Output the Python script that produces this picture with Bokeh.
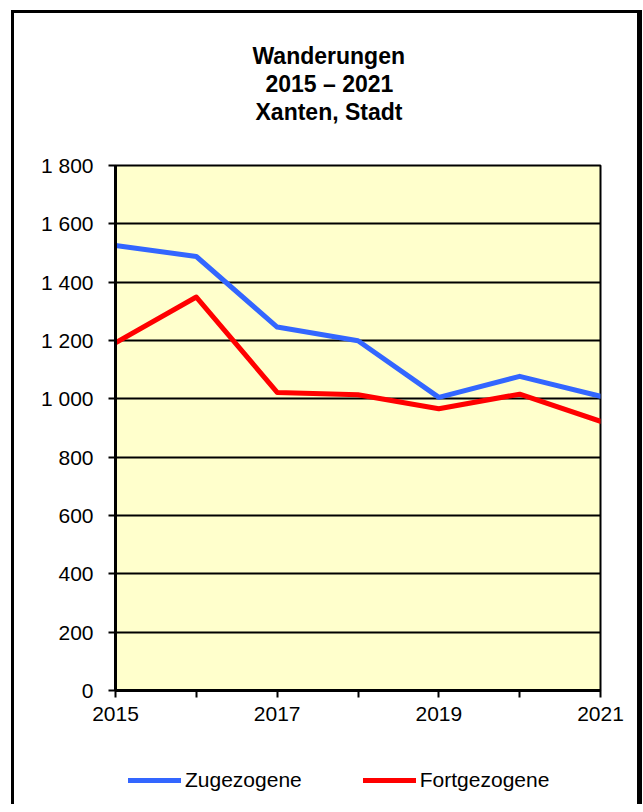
from bokeh.plotting import figure
from bokeh.layouts import column
from bokeh.models import Range1d, FixedTicker, Legend, LegendItem, Title
from bokeh.embed import file_html
from bokeh.resources import INLINE

# ---- data ----
years = [2015, 2016, 2017, 2018, 2019, 2020, 2021]
zugezogene = [1526, 1488, 1246, 1199, 1005, 1077, 1009]
fortgezogene = [1192, 1349, 1022, 1014, 966, 1016, 923]
y_ticks = [0, 200, 400, 600, 800, 1000, 1200, 1400, 1600, 1800]
y_tick_labels = ["0", "200", "400", "600", "800", "1 000", "1 200", "1 400", "1 600", "1 800"]
x_ticks = [2015, 2016, 2017, 2018, 2019, 2020, 2021]
x_tick_labels = ["2015", "", "2017", "", "2019", "", "2021"]
title_lines = ["Wanderungen", "2015 – 2021", "Xanten, Stadt"]
series_names = ["Zugezogene", "Fortgezogene"]
series_colors = ["#3366FF", "#FF0000"]
series_values = [zugezogene, fortgezogene]

FONT = "Liberation Sans"

# ---------------- main chart ----------------
p = figure(
    frame_width=485, frame_height=525,
    min_border_left=101, min_border_right=37,
    min_border_top=152, min_border_bottom=50,
    x_range=Range1d(2015, 2021), y_range=Range1d(0, 1800),
    output_backend="svg", toolbar_location=None,
    background_fill_color="#FFFFCC", border_fill_color="white",
)
p.outline_line_color = "black"
p.outline_line_width = 2

p.xgrid.visible = False
p.ygrid.ticker = FixedTicker(ticks=y_ticks)
p.ygrid.grid_line_color = "black"
p.ygrid.grid_line_width = 2

p.yaxis.ticker = FixedTicker(ticks=y_ticks)
p.yaxis.major_label_overrides = {t: l for t, l in zip(y_ticks, y_tick_labels)}
p.xaxis.ticker = FixedTicker(ticks=x_ticks)
p.xaxis.major_label_overrides = {t: l for t, l in zip(x_ticks, x_tick_labels)}
for ax in (p.xaxis, p.yaxis):
    ax.axis_line_color = "black"
    ax.axis_line_width = 3
    ax.major_tick_line_color = "black"
    ax.major_tick_line_width = 2
    ax.major_tick_out = 7
    ax.major_tick_in = 0
    ax.minor_tick_line_color = None
    ax.major_label_text_font = FONT
    ax.major_label_text_font_size = "21px"
    ax.major_label_text_color = "black"
p.yaxis.major_label_standoff = 15
p.xaxis.major_label_standoff = 9

for vals, col in zip(series_values, series_colors):
    p.line(years, vals, line_color=col, line_width=5, line_join="round", line_cap="round")

# titles: added from the frame outward (first a blank spacer next to the frame)
p.add_layout(Title(text=" ", text_font=FONT, text_font_size="23px", standoff=13), "above")
title_offsets = [137, 150, 140]
for txt, off in zip(reversed(title_lines), reversed(title_offsets)):
    p.add_layout(Title(
        text=txt, align="left", offset=off, standoff=0,
        text_font=FONT, text_font_size="23px", text_font_style="bold",
        text_color="black",
    ), "above")

# ---------------- legend strip below the chart (same horizontal structure) ----------------
lg = figure(
    frame_width=485, frame_height=64,
    min_border_left=101, min_border_right=37, min_border_top=0, min_border_bottom=0,
    x_range=Range1d(0, 1), y_range=Range1d(0, 1),
    x_axis_location=None, y_axis_location=None,
    output_backend="svg", toolbar_location=None,
    background_fill_color="white", border_fill_color="white",
)
lg.outline_line_color = None
lg.grid.visible = False
legend_renderers = []
for vals, col in zip(series_values, series_colors):
    # same series, outside this strip's visible range: only their legend glyphs show
    legend_renderers.append(
        lg.line(years, vals, line_color=col, line_width=5, line_cap="round")
    )
legend = Legend(
    items=[LegendItem(label=n, renderers=[r]) for n, r in zip(series_names, legend_renderers)],
    orientation="horizontal",
    location=(13, 12),
    padding=0, margin=0, spacing=61,
    glyph_width=53, glyph_height=20, label_height=20, label_standoff=4,
    label_text_font=FONT, label_text_font_size="21px", label_text_color="black",
    border_line_alpha=0, background_fill_alpha=0,
)
lg.add_layout(legend, "center")

layout = column(p, lg, spacing=0)
layout.styles = {
    "border-top": "3px solid black",
    "border-left": "3px solid black",
    "border-right": "5px solid black",
    "margin-left": "11px",
    "margin-top": "10px",
}
open("out.html", "w").write(file_html(layout, INLINE))
